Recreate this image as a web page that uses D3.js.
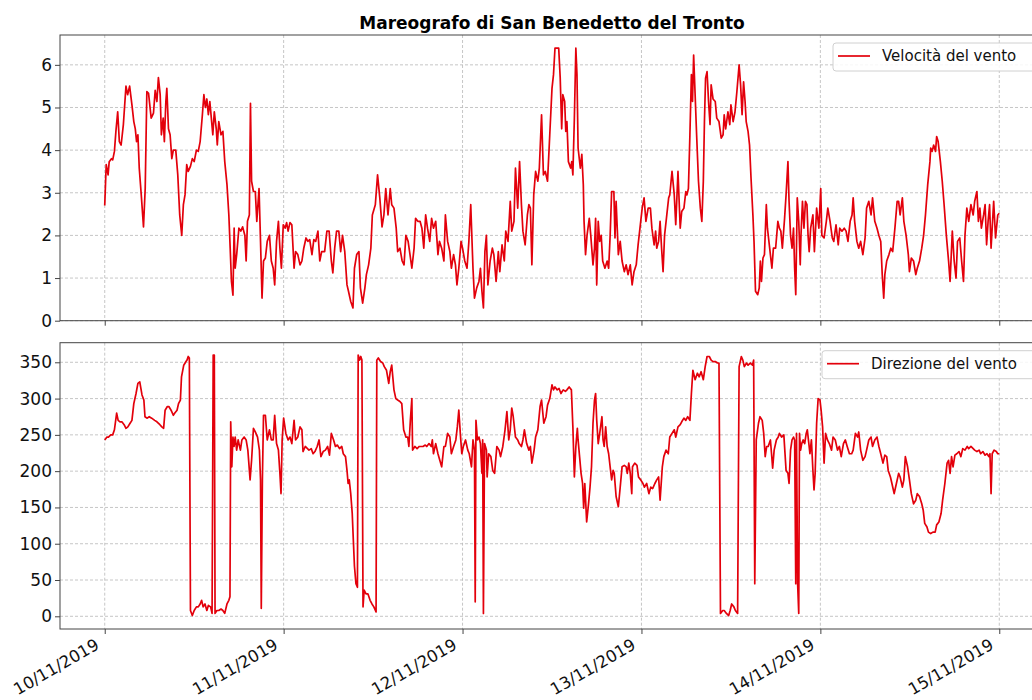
<!DOCTYPE html>
<html>

<head>
    <meta charset="utf-8">
    <script src="https://d3js.org/d3.v7.min.js"></script>
    <style>
        body {
            margin: 0;
            background: #fff;
        }

        text {
            font-family: "DejaVu Sans", sans-serif;
        }

        .grid line {
            stroke: #b8b8b8;
            stroke-width: 0.8;
            stroke-dasharray: 3, 2;
        }
    </style>
</head>

<body>
    <div id="chart"></div>
    <script>
        // hours after 10/11/2019 00:00
        var velocita = [
            [0, 2.7], [0.2, 3.66], [0.45, 3.42], [0.6, 3.73], [0.9, 3.8], [1.07, 3.77], [1.3, 3.97], [1.5, 4.44], [1.74, 4.9], [1.96, 4.2],
            [2.2, 4.12], [2.5, 4.6], [2.85, 5.5], [3.07, 5.3], [3.34, 5.5], [3.65, 5.06], [3.9, 4.67], [4.1, 4.5], [4.27, 4.2], [4.45, 4.36],
            [4.63, 3.58], [4.9, 2.95], [5.2, 2.2], [5.43, 3.1], [5.65, 5.37], [5.88, 5.33], [6.23, 4.75], [6.54, 4.87], [6.77, 5.4], [7.0, 5.14],
            [7.2, 5.7], [7.44, 5.3], [7.6, 4.36], [7.84, 4.75], [8.0, 4.2], [8.2, 5.14], [8.33, 5.45], [8.55, 4.5], [8.77, 4.36], [9.0, 3.8],
            [9.2, 4.0], [9.53, 4.0], [9.8, 3.42], [10.06, 2.48], [10.33, 2.0], [10.55, 2.72], [10.77, 2.95], [11.0, 3.66], [11.2, 3.5], [11.5, 3.62],
            [11.75, 3.8], [12.0, 3.73], [12.3, 4.0], [12.55, 3.97], [12.8, 4.2], [13.1, 4.83], [13.3, 5.3], [13.5, 5.0], [13.7, 5.2], [13.9, 4.83],
            [14.1, 5.14], [14.3, 4.75], [14.5, 4.36], [14.7, 4.9], [14.96, 4.5], [15.1, 4.12], [15.3, 4.67], [15.6, 4.36], [15.85, 4.44], [16.1, 3.73],
            [16.4, 3.19], [16.65, 2.48], [16.83, 1.7], [17.0, 0.92], [17.2, 0.6], [17.36, 2.17], [17.5, 1.23], [17.7, 1.55], [18.0, 2.17], [18.25, 2.1],
            [18.5, 2.2], [18.8, 2.0], [18.97, 1.4], [19.15, 2.33], [19.4, 2.48], [19.55, 5.1], [19.7, 3.27], [19.95, 3.03], [20.2, 3.03], [20.4, 2.33],
            [20.7, 3.1], [20.9, 1.86], [21.1, 0.53], [21.3, 1.4], [21.55, 1.47], [21.8, 1.86], [22.1, 2.0], [22.35, 1.4], [22.6, 1.23], [22.8, 0.84],
            [23.05, 1.86], [23.3, 2.33], [23.5, 1.7], [23.7, 1.23], [23.95, 2.25], [24.2, 2.17], [24.4, 2.3], [24.6, 2.1], [24.85, 2.3], [25.1, 2.25],
            [25.4, 1.23], [25.6, 1.62], [25.9, 1.55], [26.2, 1.31], [26.45, 1.4], [26.7, 1.7], [27.0, 1.94], [27.25, 1.86], [27.5, 1.9], [27.8, 1.55],
            [28.05, 1.9], [28.3, 1.86], [28.6, 2.1], [28.85, 1.4], [29.1, 1.62], [29.5, 1.62], [29.8, 2.1], [30.1, 2.1], [30.4, 1.4], [30.6, 1.12],
            [30.85, 1.7], [31.1, 2.1], [31.4, 2.1], [31.65, 1.62], [31.9, 2.0], [32.2, 1.62], [32.5, 0.84], [32.7, 0.69], [33.0, 0.45], [33.3, 0.3],
            [33.5, 1.23], [33.8, 1.55], [34.1, 1.62], [34.3, 0.77], [34.6, 0.41], [34.9, 0.77], [35.1, 1.08], [35.4, 1.31], [35.7, 1.7], [35.9, 2.48],
            [36.3, 2.72], [36.6, 3.42], [36.9, 2.88], [37.2, 2.2], [37.45, 2.48], [37.7, 3.1], [38.0, 2.48], [38.3, 3.1], [38.5, 2.72], [38.8, 2.64],
            [39.1, 2.17], [39.3, 1.62], [39.6, 1.7], [39.9, 1.4], [40.15, 1.31], [40.4, 2.0], [40.7, 1.86], [40.95, 1.55], [41.2, 1.23], [41.5, 1.7],
            [41.7, 2.4], [42.0, 2.33], [42.3, 2.33], [42.55, 2.17], [42.8, 1.7], [43.05, 2.48], [43.3, 2.17], [43.6, 1.86], [43.85, 2.4], [44.1, 2.17],
            [44.4, 2.33], [44.7, 1.55], [44.9, 1.86], [45.2, 1.7], [45.5, 1.4], [45.7, 2.48], [46.0, 1.86], [46.3, 1.62], [46.5, 1.23], [46.8, 1.55],
            [47.05, 1.31], [47.25, 0.84], [47.5, 1.23], [47.8, 1.86], [48.0, 1.7], [48.3, 1.4], [48.6, 1.23], [48.85, 1.86], [49.1, 2.72], [49.4, 1.23],
            [49.6, 0.53], [49.9, 0.77], [50.2, 0.92], [50.4, 1.23], [50.6, 0.69], [50.8, 0.3], [51.0, 1.62], [51.2, 2.0], [51.4, 0.84], [51.7, 1.4],
            [52.0, 1.7], [52.2, 1.55], [52.5, 0.92], [52.8, 1.62], [53.0, 1.15], [53.3, 1.78], [53.6, 1.4], [53.8, 2.1], [54.1, 1.86], [54.4, 2.8],
            [54.6, 2.1], [54.9, 2.33], [55.1, 3.58], [55.4, 2.64], [55.65, 3.73], [55.9, 2.72], [56.1, 2.1], [56.4, 1.78], [56.7, 2.48], [56.9, 2.72],
            [57.1, 2.64], [57.3, 1.31], [57.55, 2.95], [57.8, 3.5], [58.1, 3.27], [58.3, 3.58], [58.6, 4.83], [58.85, 3.42], [59.1, 3.5], [59.4, 3.27],
            [59.7, 4.36], [60.0, 5.45], [60.2, 5.77], [60.4, 6.39], [60.9, 6.39], [61.1, 5.7], [61.3, 4.5], [61.45, 5.3], [61.7, 5.14], [61.85, 4.44],
            [62.0, 4.67], [62.2, 3.73], [62.5, 3.58], [62.65, 3.73], [62.8, 3.42], [63.0, 4.75], [63.2, 6.39], [63.35, 5.77], [63.5, 4.05], [63.8, 3.58],
            [64.0, 3.9], [64.2, 3.19], [64.3, 2.33], [64.5, 1.55], [64.7, 2.0], [65.0, 2.4], [65.2, 2.0], [65.5, 1.31], [65.7, 1.7], [65.85, 2.4],
            [66.0, 0.84], [66.2, 2.33], [66.4, 1.86], [66.6, 2.0], [66.8, 1.4], [67.1, 1.23], [67.4, 1.4], [67.6, 1.23], [67.8, 2.0], [68.0, 3.03],
            [68.3, 3.03], [68.45, 1.94], [68.6, 2.8], [68.9, 1.55], [69.15, 1.86], [69.4, 1.4], [69.7, 1.15], [69.95, 1.31], [70.2, 1.08], [70.5, 1.31],
            [70.75, 0.84], [71.0, 1.15], [71.3, 1.31], [71.55, 1.78], [71.8, 2.17], [72.1, 2.64], [72.35, 2.88], [72.6, 2.33], [72.9, 2.64], [73.2, 2.64],
            [73.4, 2.17], [73.7, 1.78], [73.9, 2.1], [74.05, 1.7], [74.3, 1.86], [74.5, 2.33], [74.7, 1.7], [74.9, 1.15], [75.1, 2.0], [75.4, 2.48],
            [75.65, 2.88], [75.8, 2.95], [76.1, 3.5], [76.4, 2.95], [76.6, 2.25], [76.9, 3.5], [77.2, 2.17], [77.4, 2.56], [77.7, 2.64], [77.95, 3.03],
            [78.1, 2.95], [78.3, 3.1], [78.5, 4.36], [78.7, 5.77], [78.85, 5.14], [79.0, 6.23], [79.2, 5.3], [79.4, 4.36], [79.65, 3.27], [79.9, 2.64],
            [80.1, 2.33], [80.3, 3.27], [80.45, 4.67], [80.6, 5.69], [80.8, 5.84], [81.0, 5.14], [81.2, 4.6], [81.35, 5.53], [81.6, 5.2], [81.9, 5.14],
            [82.1, 4.75], [82.4, 4.67], [82.7, 4.28], [82.95, 4.36], [83.1, 4.83], [83.3, 4.5], [83.6, 4.9], [83.85, 4.6], [84.0, 5.06], [84.3, 4.67],
            [84.55, 4.9], [84.8, 5.37], [85.1, 6.0], [85.3, 5.53], [85.5, 4.83], [85.7, 5.6], [85.9, 5.14], [86.05, 4.67], [86.3, 4.44], [86.5, 4.12],
            [86.7, 3.34], [86.95, 2.48], [87.1, 1.86], [87.3, 0.69], [87.6, 0.61], [87.8, 0.77], [87.95, 1.4], [88.1, 0.92], [88.3, 1.47], [88.5, 1.55],
            [88.75, 2.72], [88.9, 2.17], [89.2, 1.7], [89.5, 1.23], [89.7, 1.7], [90.0, 1.7], [90.3, 2.33], [90.5, 2.17], [90.7, 2.1], [90.9, 1.7],
            [91.2, 2.4], [91.4, 2.95], [91.65, 3.73], [91.8, 2.8], [92.0, 2.0], [92.2, 1.7], [92.4, 2.17], [92.55, 1.23], [92.7, 0.61], [92.9, 2.88],
            [93.1, 2.33], [93.3, 1.31], [93.4, 2.0], [93.6, 2.8], [93.8, 2.17], [94.0, 2.8], [94.2, 2.72], [94.35, 2.0], [94.5, 1.62], [94.7, 2.17],
            [95.0, 2.48], [95.2, 1.62], [95.5, 2.64], [95.8, 2.17], [96.05, 3.1], [96.2, 2.0], [96.5, 1.94], [96.8, 2.33], [97.0, 2.64], [97.3, 2.33],
            [97.6, 1.94], [97.8, 1.86], [98.1, 2.25], [98.4, 1.78], [98.6, 2.17], [98.9, 2.1], [99.2, 2.17], [99.45, 2.1], [99.7, 1.86], [100.0, 2.33],
            [100.25, 2.48], [100.4, 2.88], [100.6, 2.33], [100.9, 1.86], [101.15, 1.7], [101.4, 1.86], [101.7, 1.55], [102.0, 1.94], [102.2, 2.64], [102.5, 2.8],
            [102.8, 2.48], [103.0, 2.88], [103.3, 2.33], [103.6, 2.17], [103.85, 2.0], [104.1, 1.86], [104.3, 1.08], [104.5, 0.53], [104.65, 1.08], [104.9, 1.4],
            [105.2, 1.55], [105.45, 1.7], [105.7, 1.62], [106.0, 2.17], [106.3, 2.8], [106.5, 2.8], [106.7, 2.48], [107.0, 2.88], [107.2, 2.33], [107.5, 2.0],
            [107.8, 1.55], [107.95, 1.15], [108.2, 1.47], [108.5, 1.4], [108.8, 1.08], [109.0, 1.23], [109.3, 1.4], [109.6, 1.7], [109.85, 2.0], [110.1, 2.48],
            [110.4, 3.19], [110.7, 3.73], [110.8, 4.05], [111.0, 3.97], [111.2, 4.12], [111.45, 3.97], [111.6, 4.32], [111.8, 4.2], [112.1, 3.73], [112.35, 3.27],
            [112.6, 2.72], [112.9, 2.0], [113.2, 1.4], [113.4, 0.92], [113.7, 2.1], [113.95, 1.4], [114.2, 1.0], [114.4, 1.86], [114.7, 1.94], [114.95, 1.4],
            [115.2, 0.92], [115.4, 2.0], [115.65, 2.64], [115.9, 2.33], [116.2, 2.72], [116.5, 2.48], [116.7, 2.8], [117.0, 3.03], [117.2, 2.33], [117.4, 2.64],
            [117.6, 2.17], [117.9, 2.48], [118.1, 2.72], [118.3, 1.78], [118.5, 2.33], [118.7, 2.72], [118.9, 1.7], [119.1, 2.33], [119.25, 2.8], [119.5, 1.94],
            [119.8, 2.48], [120.0, 2.52]
        ];

        var direzione = [
            [0, 243], [0.3, 247], [0.5, 247], [0.8, 250], [1.07, 250], [1.3, 257], [1.6, 280], [1.8, 270], [2.05, 268], [2.3, 268],
            [2.6, 264], [2.85, 259], [3.1, 261], [3.4, 266], [3.65, 270], [3.9, 293], [4.2, 307], [4.45, 321], [4.7, 323], [5.0, 305],
            [5.25, 298], [5.4, 275], [5.7, 273], [5.97, 275], [6.3, 273], [6.7, 270], [7.0, 268], [7.4, 264], [7.66, 261], [7.9, 259],
            [8.1, 284], [8.4, 289], [8.6, 289], [8.9, 284], [9.2, 277], [9.4, 280], [9.7, 284], [9.9, 293], [10.15, 298], [10.3, 330],
            [10.6, 346], [10.9, 351], [11.04, 353], [11.2, 358], [11.35, 356], [11.5, 8], [11.75, 1], [12.0, 8], [12.3, 13], [12.55, 13],
            [12.8, 17], [13.0, 22], [13.2, 13], [13.45, 17], [13.7, 8], [13.9, 15], [14.2, 13], [14.4, 4], [14.55, 360], [14.7, 360],
            [14.8, 4], [15.05, 8], [15.3, 8], [15.6, 10], [15.85, 8], [16.1, 4], [16.4, 17], [16.65, 22], [16.8, 27], [16.9, 268],
            [17.05, 206], [17.2, 247], [17.35, 234], [17.5, 247], [17.7, 229], [17.9, 243], [18.2, 229], [18.4, 243], [18.7, 247], [18.97, 243],
            [19.2, 229], [19.5, 188], [19.7, 215], [19.95, 259], [20.2, 254], [20.5, 247], [20.75, 229], [20.9, 188], [21.0, 11], [21.15, 188],
            [21.3, 277], [21.55, 277], [21.8, 243], [22.1, 257], [22.35, 243], [22.6, 243], [22.8, 277], [23.05, 238], [23.3, 229], [23.5, 197],
            [23.65, 169], [23.8, 243], [24.0, 273], [24.3, 252], [24.6, 243], [24.85, 247], [25.1, 238], [25.4, 270], [25.6, 243], [25.9, 247],
            [26.2, 261], [26.45, 257], [26.6, 227], [26.9, 234], [27.2, 231], [27.4, 229], [27.7, 231], [27.95, 224], [28.2, 227], [28.5, 234],
            [28.75, 243], [29.0, 220], [29.3, 227], [29.6, 229], [29.9, 234], [30.15, 222], [30.4, 252], [30.7, 243], [30.95, 234], [31.2, 236],
            [31.5, 231], [31.8, 234], [32.0, 224], [32.3, 220], [32.5, 201], [32.65, 183], [32.8, 188], [33.0, 169], [33.2, 142], [33.35, 105],
            [33.5, 69], [33.7, 45], [33.9, 40], [34.0, 360], [34.2, 353], [34.35, 358], [34.5, 353], [34.65, 13], [34.8, 36], [35.05, 31],
            [35.3, 31], [35.6, 22], [35.85, 17], [36.1, 13], [36.4, 6], [36.5, 353], [36.7, 356], [37.0, 351], [37.3, 349], [37.5, 344],
            [37.8, 339], [38.1, 321], [38.3, 337], [38.5, 346], [38.8, 312], [39.05, 300], [39.3, 298], [39.6, 296], [39.85, 293], [40.1, 257],
            [40.4, 247], [40.65, 247], [40.8, 234], [41.0, 270], [41.2, 300], [41.3, 229], [41.6, 234], [41.9, 231], [42.2, 234], [42.4, 234],
            [42.7, 234], [43.0, 236], [43.2, 234], [43.5, 238], [43.8, 234], [43.95, 243], [44.1, 224], [44.4, 238], [44.7, 224], [44.95, 215],
            [45.2, 206], [45.5, 234], [45.7, 234], [46.0, 252], [46.3, 247], [46.5, 224], [46.8, 234], [47.1, 243], [47.3, 261], [47.5, 284],
            [47.7, 252], [47.9, 224], [48.1, 234], [48.4, 243], [48.7, 229], [48.9, 224], [49.2, 206], [49.4, 243], [49.6, 229], [49.7, 20],
            [49.8, 270], [50.0, 243], [50.2, 247], [50.4, 238], [50.6, 197], [50.7, 243], [50.8, 4], [50.95, 238], [51.2, 229], [51.3, 192],
            [51.5, 224], [51.8, 220], [52.05, 201], [52.3, 197], [52.6, 234], [52.9, 229], [53.1, 220], [53.4, 234], [53.7, 257], [53.95, 282],
            [54.2, 243], [54.4, 257], [54.6, 287], [54.8, 275], [55.1, 247], [55.4, 243], [55.6, 238], [55.9, 234], [56.1, 243], [56.3, 257],
            [56.6, 238], [56.9, 229], [57.1, 234], [57.3, 211], [57.6, 229], [57.8, 247], [58.1, 257], [58.4, 289], [58.6, 298], [58.9, 266],
            [59.2, 275], [59.4, 291], [59.7, 300], [60.0, 319], [60.2, 312], [60.4, 316], [60.7, 312], [60.95, 314], [61.2, 307], [61.5, 312],
            [61.8, 310], [62.0, 312], [62.3, 316], [62.6, 312], [62.8, 261], [63.0, 192], [63.2, 234], [63.4, 259], [63.5, 243], [63.7, 220],
            [63.9, 197], [64.1, 183], [64.25, 149], [64.4, 183], [64.65, 130], [64.9, 155], [65.1, 178], [65.3, 206], [65.5, 266], [65.7, 298],
            [65.85, 307], [66.0, 270], [66.2, 238], [66.4, 252], [66.7, 275], [66.85, 243], [67.0, 234], [67.2, 261], [67.4, 234], [67.6, 224],
            [67.8, 206], [68.0, 188], [68.2, 201], [68.35, 197], [68.6, 165], [68.9, 151], [69.15, 178], [69.4, 206], [69.7, 208], [69.95, 206],
            [70.1, 197], [70.3, 211], [70.5, 197], [70.7, 169], [70.8, 206], [71.1, 211], [71.4, 208], [71.6, 192], [71.9, 188], [72.2, 183],
            [72.4, 178], [72.7, 183], [73.0, 169], [73.25, 178], [73.5, 176], [73.8, 183], [74.05, 188], [74.3, 192], [74.5, 160], [74.8, 206],
            [75.0, 220], [75.3, 229], [75.6, 224], [75.8, 247], [76.1, 252], [76.4, 257], [76.6, 247], [76.9, 261], [77.2, 264], [77.4, 268],
            [77.7, 273], [77.95, 270], [78.2, 275], [78.5, 270], [78.7, 307], [78.9, 339], [79.2, 326], [79.5, 335], [79.75, 330], [80.0, 337],
            [80.3, 326], [80.55, 344], [80.8, 358], [81.1, 358], [81.35, 353], [81.6, 351], [81.9, 351], [82.2, 349], [82.4, 349], [82.6, 4],
            [82.9, 8], [83.1, 8], [83.4, 4], [83.7, 1], [83.9, 8], [84.1, 17], [84.4, 13], [84.6, 8], [84.9, 4], [85.1, 344],
            [85.4, 358], [85.6, 353], [85.8, 344], [86.1, 349], [86.3, 346], [86.6, 349], [86.9, 346], [87.05, 353], [87.2, 45], [87.4, 243],
            [87.7, 266], [87.9, 275], [88.2, 270], [88.4, 252], [88.6, 220], [88.8, 234], [89.0, 234], [89.3, 243], [89.45, 224], [89.6, 204],
            [89.8, 229], [90.1, 243], [90.35, 247], [90.5, 252], [90.8, 247], [91.1, 250], [91.4, 201], [91.65, 197], [91.8, 183], [92.0, 229],
            [92.2, 243], [92.4, 247], [92.55, 243], [92.7, 45], [92.8, 252], [92.95, 45], [93.1, 4], [93.2, 252], [93.35, 229], [93.5, 238],
            [93.7, 243], [93.9, 238], [94.1, 252], [94.25, 257], [94.4, 243], [94.6, 224], [94.8, 243], [95.0, 201], [95.15, 174], [95.3, 197],
            [95.5, 266], [95.7, 300], [95.95, 298], [96.1, 284], [96.3, 261], [96.5, 211], [96.7, 252], [96.95, 243], [97.2, 238], [97.5, 229],
            [97.7, 247], [98.0, 243], [98.3, 229], [98.55, 234], [98.8, 220], [99.1, 238], [99.35, 243], [99.6, 234], [99.9, 224], [100.2, 224],
            [100.4, 229], [100.7, 252], [101.0, 247], [101.15, 254], [101.4, 229], [101.7, 215], [102.0, 220], [102.2, 229], [102.5, 243], [102.8, 247],
            [103.0, 234], [103.3, 243], [103.6, 247], [103.85, 234], [104.1, 224], [104.4, 211], [104.65, 222], [104.9, 220], [105.1, 201], [105.4, 192],
            [105.6, 183], [105.9, 169], [106.2, 183], [106.5, 197], [106.7, 192], [107.0, 178], [107.2, 188], [107.4, 220], [107.7, 206], [107.95, 188],
            [108.2, 169], [108.5, 155], [108.8, 160], [109.0, 169], [109.3, 165], [109.6, 155], [109.8, 146], [110.0, 128], [110.3, 123], [110.5, 116],
            [110.8, 114], [111.1, 116], [111.4, 116], [111.6, 126], [111.9, 130], [112.2, 142], [112.4, 160], [112.7, 183], [113.0, 211], [113.2, 215],
            [113.4, 197], [113.6, 220], [113.8, 206], [114.05, 222], [114.3, 224], [114.6, 227], [114.85, 220], [115.1, 231], [115.4, 229], [115.7, 234],
            [115.9, 231], [116.2, 234], [116.5, 231], [116.7, 229], [117.0, 227], [117.3, 229], [117.5, 224], [117.8, 227], [118.1, 222], [118.35, 224],
            [118.6, 220], [118.75, 224], [118.9, 169], [119.05, 224], [119.3, 229], [119.6, 227], [119.8, 224], [120.0, 224]
        ];

        var dayTicks = ["2019-11-10", "2019-11-11", "2019-11-12", "2019-11-13", "2019-11-14", "2019-11-15"];
        var speedTicks = [0, 1, 2, 3, 4, 5, 6];
        var dirTicks = [0, 50, 100, 150, 200, 250, 300, 350];
        var titolo = "Mareografo di San Benedetto del Tronto";
        var legendaTop = "Velocità del vento";
        var legendaBottom = "Direzione del vento";

        var width = 1032, height = 700;
        var left = 60, right = 1044;
        var lineColor = "#e3000b";

        var parseDay = d3.timeParse("%Y-%m-%d");
        var t0 = parseDay(dayTicks[0]);
        function hToDate(h) { return new Date(t0.getTime() + h * 3600000); }
        var days = dayTicks.map(parseDay);

        var svg = d3.select("#chart").append("svg")
            .attr("width", width)
            .attr("height", height)
            .style("display", "block");

        var x = d3.scaleTime()
            .domain([hToDate(-6), hToDate(126)])
            .range([left, right]);

        svg.append("text")
            .attr("x", (left + right) / 2)
            .attr("y", 29)
            .attr("text-anchor", "middle")
            .style("font-size", "17px")
            .style("font-weight", "bold")
            .text(titolo);

        // draw one panel (axes, grid, line, legend)
        function panel(top, bottom, yDomain, yTicks, data, label, legendX, showDates) {
            var y = d3.scaleLinear().domain(yDomain).range([bottom, top]);
            var g = svg.append("g");

            // grid
            var grid = g.append("g").attr("class", "grid");
            grid.selectAll(".gx").data(days).enter().append("line")
                .attr("x1", function (d) { return x(d); })
                .attr("x2", function (d) { return x(d); })
                .attr("y1", top).attr("y2", bottom);
            grid.selectAll(".gy").data(yTicks).enter().append("line")
                .attr("x1", left).attr("x2", right)
                .attr("y1", function (d) { return y(d); })
                .attr("y2", function (d) { return y(d); });

            // data line
            var line = d3.line()
                .x(function (d) { return x(hToDate(d[0])); })
                .y(function (d) { return y(d[1]); });
            g.append("path")
                .datum(data)
                .attr("d", line)
                .attr("fill", "none")
                .attr("stroke", lineColor)
                .attr("stroke-width", 1.7)
                .attr("stroke-linejoin", "round");

            // spines
            g.append("rect")
                .attr("x", left).attr("y", top)
                .attr("width", right - left).attr("height", bottom - top)
                .attr("fill", "none")
                .attr("stroke", "#444")
                .attr("stroke-width", 1);

            // y axis
            var ya = g.append("g")
                .attr("transform", "translate(" + left + ",0)")
                .call(d3.axisLeft(y).tickValues(yTicks).tickFormat(d3.format("d"))
                    .tickSize(5).tickPadding(3).tickSizeOuter(0));
            ya.select(".domain").remove();
            ya.selectAll("line").attr("stroke", "#444");
            ya.selectAll("text")
                .style("font-size", "17px")
                .attr("fill", "#111")
                .attr("font-family", "DejaVu Sans");

            // x axis
            var xa = g.append("g")
                .attr("transform", "translate(0," + bottom + ")")
                .call(d3.axisBottom(x).tickValues(days).tickSize(5).tickSizeOuter(0)
                    .tickFormat(showDates ? d3.timeFormat("%d/%m/%Y") : function () { return ""; }));
            xa.select(".domain").remove();
            xa.selectAll("line").attr("stroke", "#444");
            if (showDates) {
                xa.selectAll("text")
                    .attr("x", 0).attr("y", 0).attr("dy", 0)
                    .attr("text-anchor", "end")
                    .attr("transform", "translate(-5,19) rotate(-30)")
                    .style("font-size", "16.5px")
                    .attr("fill", "#111")
                    .attr("font-family", "DejaVu Sans");
            }

            // legend
            var lg = g.append("g");
            lg.append("rect")
                .attr("x", legendX).attr("y", top + 8)
                .attr("width", right - 7 - legendX).attr("height", 28)
                .attr("rx", 3)
                .attr("fill", "#fff").attr("fill-opacity", 0.85)
                .attr("stroke", "#d0d0d0");
            lg.append("line")
                .attr("x1", legendX + 5).attr("x2", legendX + 37)
                .attr("y1", top + 21).attr("y2", top + 21)
                .attr("stroke", lineColor).attr("stroke-width", 1.7);
            lg.append("text")
                .attr("x", legendX + 49).attr("y", top + 26)
                .style("font-size", "15px")
                .attr("fill", "#111")
                .text(label);
        }

        panel(35, 320.7, [0, 6.7], speedTicks, velocita, legendaTop, 833, false);
        panel(342.7, 629, [-17.5, 377], dirTicks, direzione, legendaBottom, 822, true);
    </script>
</body>

</html>
